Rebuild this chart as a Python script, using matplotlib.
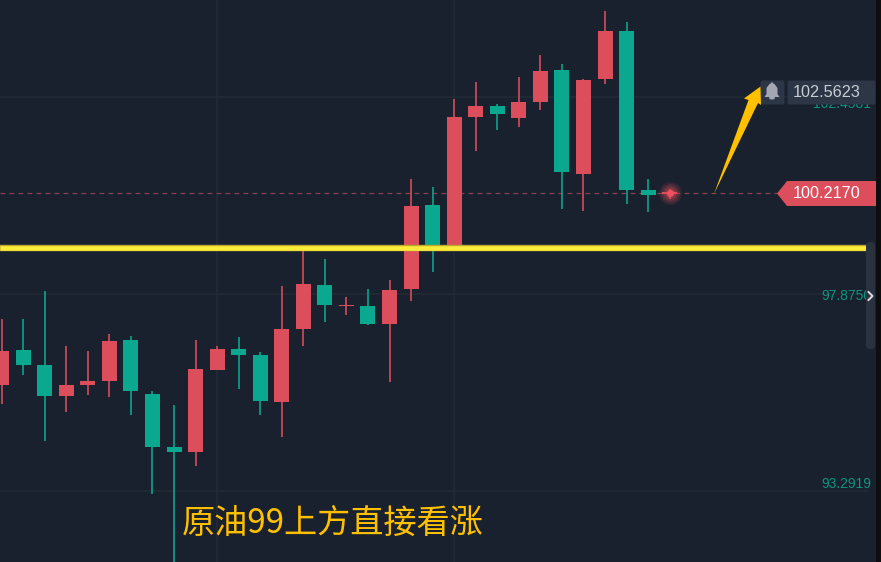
import numpy as np
import matplotlib
matplotlib.use('Agg')
import matplotlib.pyplot as plt
from matplotlib.patches import Polygon, FancyBboxPatch, Rectangle, Ellipse, Circle

# --- velas ---
opens = [95.76, 96.57, 96.22, 95.50, 95.76, 95.85, 96.81, 95.55, 94.32, 94.20, 96.11,
         96.60, 96.46, 95.36, 97.06, 98.09, 97.60, 97.60, 97.18, 97.99, 99.95, 99.02,
         101.99, 102.25, 101.97, 102.34, 103.09, 100.67, 102.88, 103.99, 100.30, 100.20]
closes = [96.55, 96.22, 95.50, 95.76, 95.85, 96.78, 95.62, 94.32, 94.20, 96.13, 96.60,
          96.46, 95.39, 97.06, 98.11, 97.62, 97.60, 97.18, 97.97, 99.92, 99.02, 101.99,
          102.25, 102.06, 102.34, 103.06, 100.71, 102.85, 103.99, 100.30, 100.18, 100.25]
highs = [97.29, 97.29, 97.95, 96.67, 96.55, 96.95, 96.90, 95.62, 95.29, 96.81, 96.67,
         96.88, 96.53, 98.06, 98.90, 98.69, 97.81, 97.99, 98.20, 100.55, 100.36, 102.41,
         102.81, 102.30, 102.92, 103.44, 103.23, 102.88, 104.46, 104.20, 100.55, 100.32]
lows = [95.32, 95.99, 94.46, 95.13, 95.53, 95.48, 95.06, 93.22, 91.50, 93.87, 96.11,
        95.67, 95.06, 94.55, 96.67, 97.22, 97.39, 97.15, 95.83, 97.71, 98.39, 98.90,
        101.20, 101.69, 101.76, 102.16, 99.85, 99.81, 102.76, 99.97, 99.78, 100.09]
# 1 = vela roja (sube), 0 = vela verde (baja)
is_up = [1, 0, 0, 1, 1, 1, 0, 0, 0, 1, 1, 0, 0, 1, 1, 0, 1, 0, 1, 1, 0, 1,
         1, 0, 1, 1, 0, 1, 1, 0, 0, 1]

grid_prices = [102.4581, 97.875, 93.2919]
grid_labels = ['102.4581', '97.8750', '93.2919']
grid_candles = [10, 21]
support_price = 98.946
last_price = 100.2170
alert_price = 102.5623
caption = '原油99上方直接看涨'

BG = '#1a212e'
RED = '#dc4e5b'
GREEN = '#0aa88e'
GRID = '#222b37'
GOLD = '#ffc000'
PANEL = '#2d3647'
NUM_FONT = 'Liberation Sans'


def px(n):
    """Pixeles a puntos (dpi 100)."""
    return n * 0.72


fig = plt.figure(figsize=(8.81, 5.62), dpi=100, facecolor=BG)

# --- 1. eje de precios con las velas ---
ax = fig.add_axes([0, 0, 1, 1], facecolor=BG)
ax.set_xlim(-0.075, 40.805)
ax.set_ylim(91.64, 104.715)
ax.axis('off')

x = np.arange(len(opens))
colors = [RED if u else GREEN for u in is_up]
bottoms = np.minimum(opens, closes)
heights = np.abs(np.array(closes) - np.array(opens))

ax.hlines(grid_prices, -0.075, 40.2, color=GRID, lw=px(1.5), zorder=1)
ax.vlines(grid_candles, 91.64, 104.715, color=GRID, lw=px(1.5), zorder=1)

ax.plot([-0.075, 36.0], [last_price, last_price], color='#8a4250', lw=px(1.2),
        dashes=(4, 3.5), zorder=2)

ax.vlines(x, lows, highs, color=colors, lw=px(1.6), zorder=3)
ax.bar(x, np.maximum(heights, 0.03), bottom=bottoms, width=0.696, color=colors,
       linewidth=0, zorder=4)

# brillo del ultimo precio
for radius, alpha in [(11.5, 0.12), (9.5, 0.16), (7.5, 0.20), (5.5, 0.28)]:
    ax.scatter(x[-1], last_price, s=(2 * px(radius)) ** 2, color=RED, alpha=alpha,
               linewidths=0, zorder=5)
ax.scatter(x[-1], last_price, s=(2 * px(3.5)) ** 2, color='#f0505f', linewidths=0, zorder=6)

# linea amarilla de soporte
ax.plot([-0.075, 40.2], [support_price, support_price], color='#b8a92f', lw=px(6.4),
        solid_capstyle='butt', zorder=7)
ax.plot([-0.075, 40.2], [support_price, support_price], color='#ffec3a', lw=px(4.6),
        solid_capstyle='butt', zorder=8)

# --- 2. capa de interfaz en pixeles ---
ui = fig.add_axes([0, 0, 1, 1], facecolor='none')
ui.set_xlim(0, 881)
ui.set_ylim(562, 0)
ui.axis('off')

# etiquetas del eje
label_style = dict(color='#0c957f', fontsize=10, family=NUM_FONT, va='center')
ui.text(871, 104.5, grid_labels[0], ha='right', zorder=2, **label_style)
ui.text(821, 296, grid_labels[1], ha='left', zorder=2, **label_style)
ui.text(821, 484.5, grid_labels[2], ha='left', zorder=2, **label_style)

# barra lateral
ui.add_patch(FancyBboxPatch((867, 243), 7, 105, boxstyle='round,pad=1,rounding_size=4',
                            fc='#2a3240', ec='none', zorder=3))
ui.plot([868.5, 872.5, 868.5], [292, 296, 300], color='#d5d8dd', lw=px(2), zorder=4)
ui.add_patch(Rectangle((876, 0), 5, 562, fc='#0d0e10', ec='none', zorder=5))

# caja de alerta
ui.add_patch(FancyBboxPatch((761, 81), 23, 23, boxstyle='round,pad=0.5,rounding_size=2',
                            fc=PANEL, ec='none', zorder=6))
ui.add_patch(FancyBboxPatch((788, 81), 87, 23, boxstyle='round,pad=0.5,rounding_size=2',
                            fc=PANEL, ec='none', zorder=6))
ui.text(793, 92.5, f'{alert_price:.4f}', color='#c8ccd3', fontsize=11.7, family=NUM_FONT,
        ha='left', va='center', zorder=7)

# campana
BELL = '#a3a6b3'
ui.add_patch(Polygon([(764.5, 97), (766.5, 94), (766.5, 88), (769.5, 84), (774.5, 84),
                      (777.5, 88), (777.5, 94), (779.5, 97)], fc=BELL, ec='none', zorder=7))
ui.add_patch(Circle((772, 84), 1.6, fc=BELL, ec='none', zorder=7))
ui.add_patch(Ellipse((772, 98), 6, 3, fc=BELL, ec='none', zorder=7))

# etiqueta del ultimo precio
ui.add_patch(Polygon([(777, 193.5), (787, 181), (876, 181), (876, 206), (787, 206)],
                     fc=RED, ec='none', zorder=6))
ui.text(793, 193.5, f'{last_price:.4f}', color='#ffffff', fontsize=11.7, family=NUM_FONT,
        ha='left', va='center', zorder=7)

# flecha dorada
ui.add_patch(Polygon([(714, 194), (748.5, 100), (744, 98.5), (760.5, 86.5), (761, 105),
                      (758, 103)], fc=GOLD, ec='none', zorder=8))

# texto inferior
ui.text(182, 523, caption, color=GOLD, fontsize=23.9, family=['Noto Sans CJK SC', 'DejaVu Sans'],
        ha='left', va='center', zorder=8)

fig.savefig('out.png', dpi=100, facecolor=BG)
